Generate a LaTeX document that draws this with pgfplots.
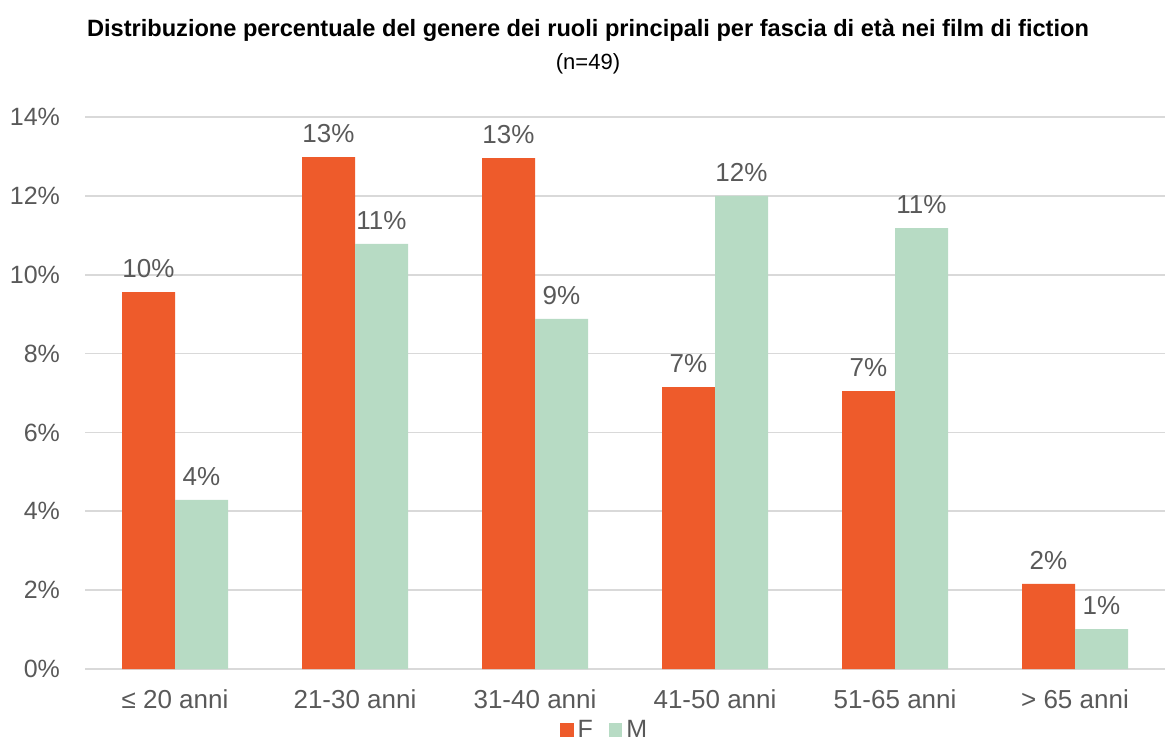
\documentclass[border=0pt]{standalone}
\usepackage{fontspec}
\setmainfont{Liberation Sans}
\usepackage{pgfplots}
\pgfplotsset{compat=1.18}
\definecolor{cF}{HTML}{EE5B2B}
\definecolor{cM}{HTML}{B7DBC4}
\definecolor{txt}{HTML}{595959}
\definecolor{grd}{HTML}{D9D9D9}
\begin{document}
\begin{tikzpicture}
\path[use as bounding box] (-42.5pt,-37.5pt) rectangle (545.5pt,334.5pt);
\begin{axis}[
  at={(0,0)}, anchor=south west,
  scale only axis, width=540pt, height=276pt,
  ybar=0pt, bar width=26.5pt,
  xmin=-0.5, xmax=5.5, ymin=0, ymax=14,
  xtick={0,...,5},
  xticklabels={≤ 20 anni, 21-30 anni, 31-40 anni, 41-50 anni, 51-65 anni, > 65 anni},
  ytick={0,2,...,14},
  yticklabel={\pgfmathprintnumber{\tick}\%},
  /pgf/number format/assume math mode=true,
  ticklabel style={text=txt},
  xticklabel style={font=\fontsize{13}{15}\selectfont, yshift=-7pt},
  yticklabel style={font=\fontsize{12.5}{15}\selectfont, xshift=-9pt},
  major tick length=0pt,
  ymajorgrids, grid style={grd, line width=0.8pt},
  axis line style={draw=none},
  nodes near coords, point meta=explicit symbolic,
  every node near coord/.append style={font=\fontsize{13}{15}\selectfont, text=txt, inner sep=2pt, yshift=5pt},
  legend columns=2,
  legend style={at={(0.482,0)}, anchor=center, yshift=-30.5pt, draw=none, fill=none,
    font=\fontsize{12.5}{14}\selectfont, text=txt, inner sep=1pt,
    /tikz/every even column/.append style={column sep=6pt}},
  legend image code/.code={\fill[#1] (0cm,-0.12cm) rectangle (0.24cm,0.12cm);},
]
\addplot[fill=cF, draw=none] coordinates {(0,9.56)[10\%] (1,12.98)[13\%] (2,12.96)[13\%] (3,7.15)[7\%] (4,7.05)[7\%] (5,2.16)[2\%]};
\addplot[fill=cM, draw=none] coordinates {(0,4.29)[4\%] (1,10.78)[11\%] (2,8.88)[9\%] (3,12.0)[12\%] (4,11.18)[11\%] (5,1.01)[1\%]};
\legend{F, M}
\end{axis}
\node[font=\fontsize{11.8}{14}\selectfont\bfseries, text=black] at (251.5pt,319.5pt) {Distribuzione percentuale del genere dei ruoli principali per fascia di età nei film di fiction};
\node[font=\fontsize{11}{13}\selectfont, text=black] at (251.5pt,302.5pt) {(n=49)};
\end{tikzpicture}
\end{document}
